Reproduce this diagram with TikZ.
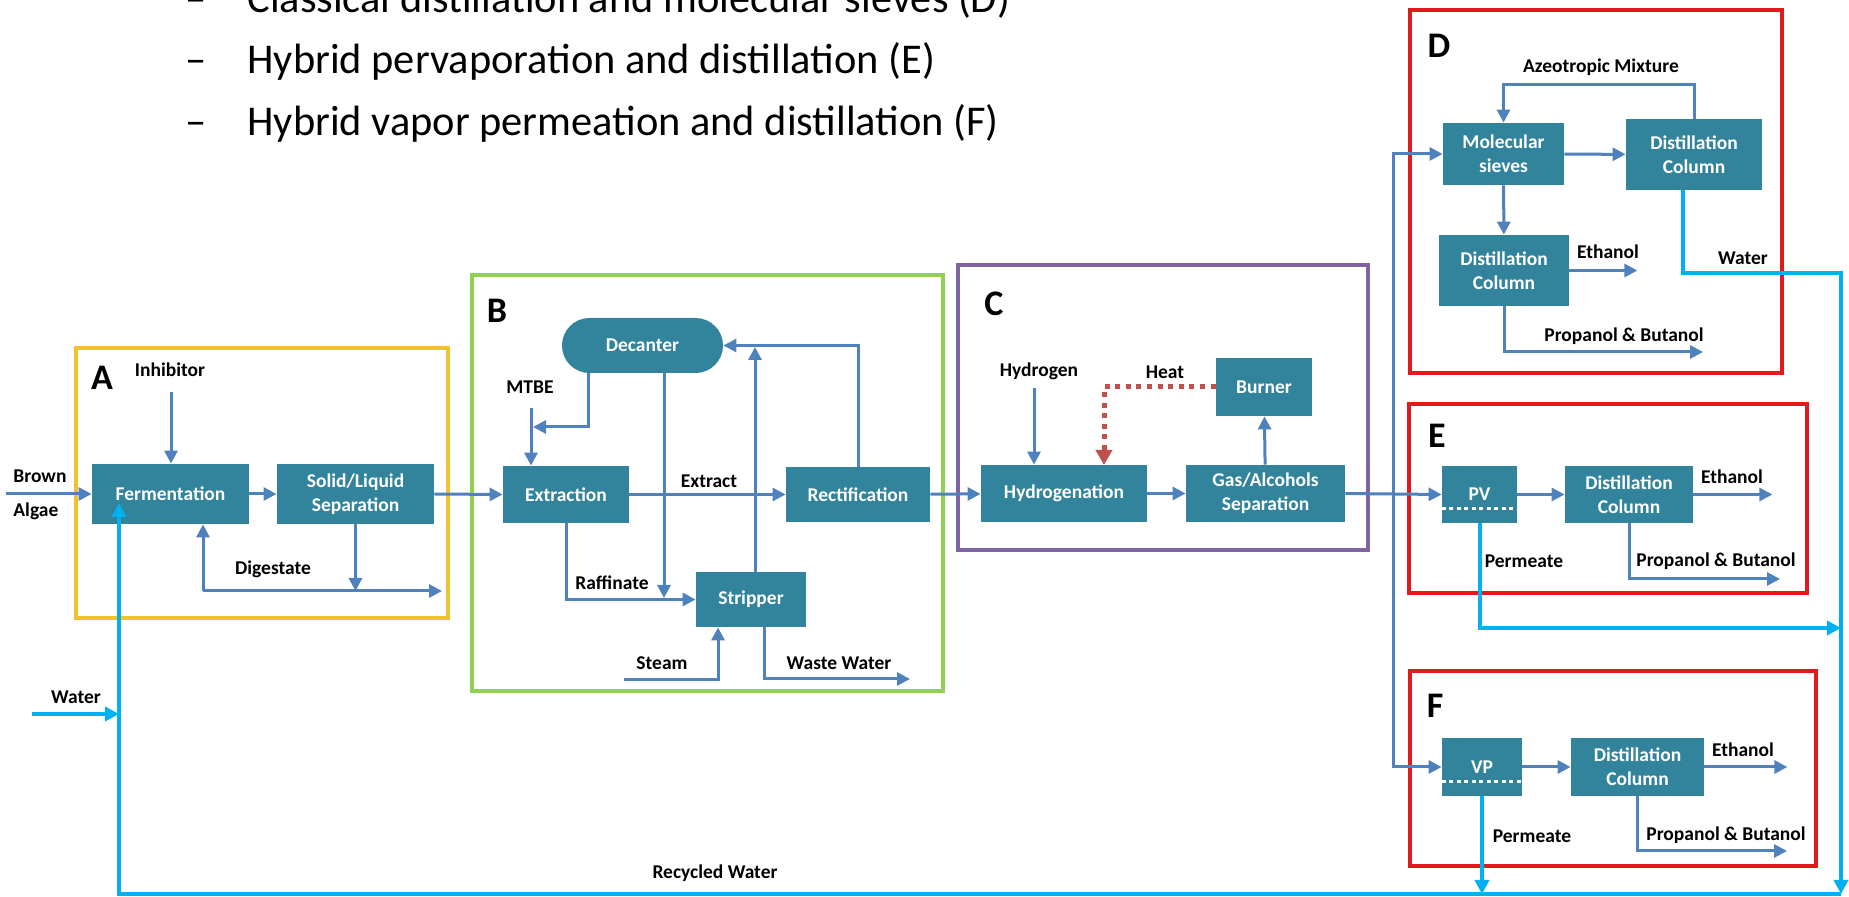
\documentclass[tikz,border=0pt]{standalone}
\usepackage{fontspec}
\setmainfont{Carlito}
\usetikzlibrary{arrows.meta}
\definecolor{boxc}{HTML}{31849B}
\definecolor{flowc}{HTML}{4F81BD}
\definecolor{cyanc}{HTML}{00B0F0}
\definecolor{redc}{HTML}{E3191B}
\definecolor{yelc}{HTML}{F2C12E}
\definecolor{grnc}{HTML}{92D050}
\definecolor{purc}{HTML}{8064A2}
\definecolor{heatc}{HTML}{C0504D}
\begin{document}
\begin{tikzpicture}[x=0.5pt,y=-0.5pt,
  proc/.style={draw=none, fill=boxc, text=white, font=\bfseries\fontsize{9.75}{12}\selectfont, align=center, inner sep=0pt},
  lbl/.style={font=\bfseries\fontsize{9.75}{12}\selectfont, inner sep=0pt},
  big/.style={font=\bfseries\fontsize{18}{18}\selectfont, inner sep=0pt},
  toptext/.style={font=\fontsize{21.2}{25}\selectfont, inner sep=0pt, anchor=base west},
  frame/.style={line width=1.8pt},
  arr/.style={draw=flowc, line width=1.5pt, -{Triangle[length=6.5pt,width=6.5pt]}},
  flowline/.style={draw=flowc, line width=1.5pt},
  warr/.style={draw=cyanc, line width=2pt, -{Triangle[length=7pt,width=7pt]}},
  heat/.style={draw=heatc, line width=2.5pt, dash pattern=on 2.5pt off 2.8pt, -{Triangle[length=7.5pt,width=8pt]}},
  memb/.style={draw=white, line width=1.5pt, dash pattern=on 2pt off 1.75pt}
]
\useasboundingbox (0,0) rectangle (1849,897);

% top text
\node[toptext] (d1) at (185,13) {–};
\node[toptext] (t1) at (247,13) {Classical distillation and molecular sieves (D)};
\node[toptext] (d2) at (185,74) {–};
\node[toptext] (t2) at (247,74) {Hybrid pervaporation and distillation (E)};
\node[toptext] (d3) at (185,136) {–};
\node[toptext] (t3) at (247,136) {Hybrid vapor permeation and distillation (F)};

% frames
\draw[frame, draw=yelc] (76,348) rectangle (448,618);
\draw[frame, draw=grnc] (472,275) rectangle (943,691);
\draw[frame, draw=purc] (958,265) rectangle (1368,550);
\draw[frame, draw=redc, line width=2pt] (1410,10) rectangle (1782,373);
\draw[frame, draw=redc, line width=2pt] (1409,404) rectangle (1807,593);
\draw[frame, draw=redc, line width=2pt] (1410,671) rectangle (1816,866);

\node[big] (lA) at (102,378) {A};
\node[big] (lB) at (497,311) {B};
\node[big] (lC) at (994,304) {C};
\node[big] (lD) at (1439,46) {D};
\node[big] (lE) at (1437,436) {E};
\node[big] (lF) at (1435,706) {F};

% process boxes
\node[proc, minimum width=78.5pt, minimum height=30pt] (ferm) at (170.5,494) {Fermentation};
\node[proc, minimum width=78.5pt, minimum height=30pt] (slsep) at (355.5,494) {Solid/Liquid\\Separation};
\node[proc, minimum width=63pt, minimum height=28.5pt] (extr) at (566,494.5) {Extraction};
\node[proc, minimum width=72pt, minimum height=27.5pt] (rect) at (858,494.5) {Rectification};
\node[proc, minimum width=80.5pt, minimum height=27.5pt, rounded corners=13.7pt] (dec) at (642.5,345.5) {Decanter};
\node[proc, minimum width=55pt, minimum height=27.5pt] (strip) at (751,599.5) {Stripper};
\node[proc, minimum width=83pt, minimum height=28.5pt] (hydro) at (1064,493.5) {Hydrogenation};
\node[proc, minimum width=79.5pt, minimum height=28.5pt] (gas) at (1265.5,493.5) {Gas/Alcohols\\Separation};
\node[proc, minimum width=48pt, minimum height=29pt] (burn) at (1264,387) {Burner};
\node[proc, minimum width=60.5pt, minimum height=31pt] (ms) at (1503.5,154) {Molecular\\sieves};
\node[proc, minimum width=68pt, minimum height=35.5pt] (dc1) at (1694,154.5) {Distillation\\Column};
\node[proc, minimum width=65pt, minimum height=35.5pt] (dc2) at (1504,270.5) {Distillation\\Column};
\node[proc, minimum width=37.5pt, minimum height=28.5pt] (pv) at (1479.5,494.5) {PV};
\node[proc, minimum width=64pt, minimum height=28.5pt] (dcE) at (1629,494.5) {Distillation\\Column};
\node[proc, minimum width=40pt, minimum height=29pt] (vp) at (1482,767) {VP};
\node[proc, minimum width=66.5pt, minimum height=29pt] (dcF) at (1637.5,767) {Distillation\\Column};

\draw[memb] ([yshift=-7.25pt]pv.west) -- ([yshift=-7.25pt]pv.east);
\draw[memb] ([yshift=-7.5pt]vp.west) -- ([yshift=-7.5pt]vp.east);

% labels
\node[lbl] (inhib) at (170,370) {Inhibitor};
\node[lbl, anchor=west] (brown) at (13,476) {Brown};
\node[lbl, anchor=west] (algae) at (13,511) {Algae};
\node[lbl] (digest) at (273,569) {Digestate};
\node[lbl] (water) at (76,697) {Water};
\node[lbl] (recyc) at (715,873) {Recycled Water};
\node[lbl] (mtbe) at (530,387) {MTBE};
\node[lbl] (extract) at (709,481) {Extract};
\node[lbl] (raff) at (612,583) {Raffinate};
\node[lbl] (steam) at (662,663) {Steam};
\node[lbl] (waste) at (839,663) {Waste Water};
\node[lbl] (h2) at (1039,371) {Hydrogen};
\node[lbl] (heatl) at (1165,372) {Heat};
\node[lbl] (azeo) at (1601,67) {Azeotropic Mixture};
\node[lbl] (ethD) at (1608,252) {Ethanol};
\node[lbl] (watD) at (1743,258) {Water};
\node[lbl] (pbD) at (1624,336) {Propanol \& Butanol};
\node[lbl] (ethE) at (1732,477) {Ethanol};
\node[lbl] (permE) at (1524,561) {Permeate};
\node[lbl] (pbE) at (1716,561) {Propanol \& Butanol};
\node[lbl] (ethF) at (1743,750) {Ethanol};
\node[lbl] (permF) at (1532,836) {Permeate};
\node[lbl] (pbF) at (1726,835) {Propanol \& Butanol};

% free-end coordinates
\coordinate (algaein) at (6,494);
\coordinate (inhibin) at (171,392);
\coordinate (digL) at (203,591);
\coordinate (digR) at (442,591);
\coordinate (waterin) at (32,714);
\coordinate (waterj) at (119,714);
\coordinate (recBL) at (119,894);
\coordinate (recBR) at (1841,894);
\coordinate (fermin) at (119,503);
\coordinate (mtbein) at (531,408);
\coordinate (mtbej) at (533,427);
\coordinate (decj) at (664,598);
\coordinate (steamin) at (624,680);
\coordinate (wwout) at (910,679);
\coordinate (stripj) at (755,347);
\coordinate (h2in) at (1034,388);
\coordinate (heatin) at (1104,465);
\coordinate (split) at (1393,494);
\coordinate (wcorner) at (1841,273);
\coordinate (pbDout) at (1703,352);
\coordinate (pbEout) at (1780,579);
\coordinate (pbFout) at (1787,851);
\coordinate (permEout) at (1841,628);

% section A
\draw[arr] (algaein) -- (ferm.west);
\draw[arr] (inhibin) -- (inhibin |- ferm.north);
\draw[arr] (ferm) -- (slsep);
\draw[arr] (slsep.east) -- (extr.west);
\draw[arr] (slsep.south) -- (slsep.south |- digR);
\draw[arr] (digL) -- (digR);
\draw[arr] (digL) -- (digL |- ferm.south);

% section B
\draw[arr] (mtbein) -- (mtbein |- extr.north);
\draw[arr] ([xshift=-27.25pt]dec.south) |- (mtbej);
\draw[arr] (extr) -- (rect);
\draw[arr] (rect.north) |- (dec.east);
\draw[arr] ([xshift=2pt]strip.north) -- (stripj);
\draw[arr] ([xshift=10.75pt]dec.south) -- (decj);
\draw[arr] (extr.south) |- (strip.west);
\draw[arr] (steamin) -| ([xshift=-16.5pt]strip.south);
\draw[arr] ([xshift=6.5pt]strip.south) |- (wwout);
\draw[arr] (rect) -- (hydro);

% section C
\draw[arr] (h2in) -- (h2in |- hydro.north);
\draw[heat] (burn.west) -| (heatin);
\draw[arr] (hydro) -- (gas);
\draw[arr] (gas) -- (burn);
\draw[arr] (gas.east) -- (pv.west);

% distribution
\draw[arr] (split) |- (ms.west);
\draw[arr] (split) |- (vp.west);

% section D
\draw[arr] (ms) -- (dc1);
\draw[arr] (dc1.north) -- ++(0,-34) -| (ms.north);
\draw[arr] (ms) -- (dc2);
\draw[arr] (dc2.east) -- ++(68,0);
\draw[arr] (dc2.south) |- (pbDout);

% section E
\draw[arr] (pv) -- (dcE);
\draw[arr] (dcE.east) -- ++(79,0);
\draw[arr] (dcE.south) |- (pbEout);

% section F
\draw[arr] (vp) -- (dcF);
\draw[arr] (dcF.east) -- ++(83,0);
\draw[arr] (dcF.south) |- (pbFout);

% water streams
\draw[warr] (waterin) -- (waterj);
\draw[warr] ([xshift=-5.5pt]dc1.south) |- (wcorner) -- (recBR);
\draw[warr] (pv.south) |- (permEout);
\draw[warr] (vp.south) -- (vp.south |- recBR);
\draw[warr] (recBR) -- (recBL) -- (fermin);
\end{tikzpicture}
\end{document}
